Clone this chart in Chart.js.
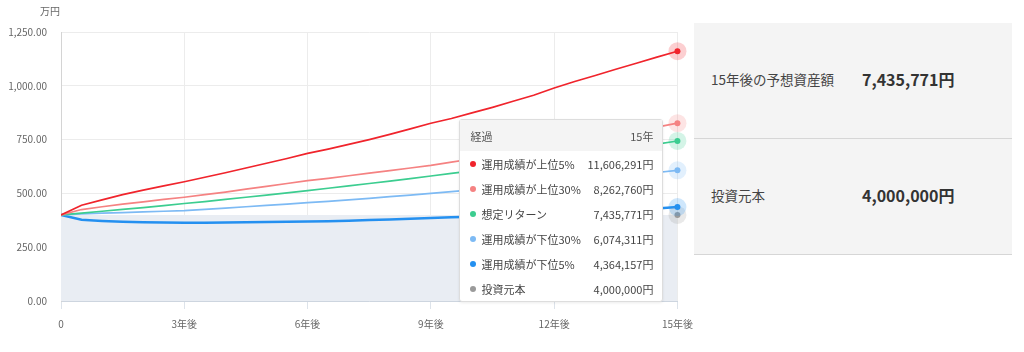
<!DOCTYPE html>
<html lang="ja">
<head>
<meta charset="utf-8">
<script src="https://cdn.jsdelivr.net/npm/chart.js@4/dist/chart.umd.min.js"></script>
<style>
  html, body { margin: 0; padding: 0; background: #fff; }
  body { width: 1024px; height: 352px; position: relative; overflow: hidden;
         font-family: "Noto Sans CJK JP", "Noto Sans", sans-serif; }
  #wrap { position: absolute; left: 0; top: 0; width: 702px; height: 352px; }
  #unit { position: absolute; left: 40px; top: 3px; font-size: 10px; color: #666; }
  #tip { position: absolute; width: 204px; background: #fff; border: 1px solid #ddd;
         border-radius: 3px; box-shadow: 0 1px 3px rgba(0,0,0,0.08); font-size: 11px; color: #444;
         box-sizing: border-box; display: none; }
  #tip .head { height: 31px; background: #f4f4f4; display: flex; justify-content: space-between;
               align-items: center; padding: 0 9px 0 10px; color: #555; }
  #tip .row { height: 25px; display: flex; align-items: center; padding: 0 9px 0 10px; }
  #tip .dot { width: 6px; height: 6px; border-radius: 50%; margin-right: 5px; }
  #tip .lab { flex: 1; }
  #panel { position: absolute; left: 694px; top: 23px; width: 318px; height: 231px; background: #f4f4f4;
           border-bottom: 1px solid #d6d6d6; }
  #panel .item { height: 115px; display: flex; align-items: center; box-sizing: border-box; padding-bottom: 3px; }
  #panel .item + .item { border-top: 1px solid #d6d6d6; }
  #panel .k { width: 168px; padding-left: 17px; box-sizing: border-box; font-size: 13.5px; color: #444; }
  #panel .v { font-size: 16px; font-weight: bold; color: #333; }
</style>
</head>
<body>
<div id="wrap">
  <canvas id="chart"></canvas>
  <div id="unit">万円</div>
  <div id="tip"></div>
</div>
<div id="panel">
  <div class="item"><div class="k">15年後の予想資産額</div><div class="v">7,435,771円</div></div>
  <div class="item"><div class="k">投資元本</div><div class="v">4,000,000円</div></div>
</div>
<script>
// 経過年数（半年ごと）
const years = [0, 0.5, 1, 1.5, 2, 2.5, 3, 3.5, 4, 4.5, 5, 5.5, 6, 6.5, 7, 7.5, 8, 8.5, 9, 9.5,
  10, 10.5, 11, 11.5, 12, 12.5, 13, 13.5, 14, 14.5, 15];

// 各シナリオの資産額（万円）
const top5 = [400, 445, 470, 494, 515, 535, 554, 575, 596, 618, 640, 662, 686, 706, 728, 750,
  774, 800, 826, 848, 874, 900, 928, 956, 990, 1020, 1048, 1077, 1105, 1133, 1160.6291];
const top30 = [400, 425, 438, 450, 461, 472, 482, 494, 506, 520, 533, 546, 559, 570, 582, 594,
  606, 618, 630, 645, 660, 676, 692, 708, 724, 740, 757, 774, 791, 808, 826.2760];
const expected = [400, 408, 417, 426, 434, 443, 453, 462, 472, 482, 492, 502, 513, 524, 535, 546,
  557, 569, 581, 593, 605, 618, 631, 644, 657, 671, 685, 699, 714, 729, 743.5771];
const bottom30 = [400, 405, 408, 411, 414, 417, 420, 426, 432, 438, 444, 450, 457, 463, 470, 477,
  485, 492, 500, 508, 516, 524, 533, 541, 550, 559, 568, 578, 588, 597, 607.4311];
const bottom5 = [400, 378, 372, 368, 366, 365, 364, 364, 365, 366, 367, 368, 369, 371, 373, 376,
  379, 382, 386, 389, 392, 395, 398, 401, 404, 409, 414, 419, 424, 430, 436.4157];
const principal = [400, 400, 400, 400, 400, 400, 400, 400, 400, 400, 400, 400, 400, 400, 400, 400,
  400, 400, 400, 400, 400, 400, 400, 400, 400, 400, 400, 400, 400, 400, 400];

const yTicks = [0, 250, 500, 750, 1000, 1250];
const xTicks = [0, 3, 6, 9, 12, 15];

const seriesNames = ['運用成績が上位5%', '運用成績が上位30%', '想定リターン', '運用成績が下位30%', '運用成績が下位5%', '投資元本'];
const seriesColors = ['#f0242c', '#f58282', '#3ccd90', '#7dbaf4', '#2490f0', '#9a9a9a'];
const seriesData = [top5, top30, expected, bottom30, bottom5, principal];

const toPoints = arr => arr.map((v, i) => ({ x: years[i], y: v }));

const datasets = seriesData.map((arr, i) => ({
  label: seriesNames[i],
  data: toPoints(arr),
  borderColor: i === 5 ? 'rgba(0,0,0,0)' : seriesColors[i],
  backgroundColor: i === 5 ? '#e9edf3' : seriesColors[i],
  borderWidth: i === 4 ? 2.5 : (i === 5 ? 0 : 1.7),
  fill: i === 5 ? 'origin' : false,
  pointRadius: 0,
  pointHoverRadius: 0,
  tension: 0
}));

function hexAlpha(hex, a) {
  const n = parseInt(hex.slice(1), 16);
  return 'rgba(' + (n >> 16) + ',' + ((n >> 8) & 255) + ',' + (n & 255) + ',' + a + ')';
}

// アクティブ点のハロー
const haloPlugin = {
  id: 'halo',
  afterDatasetsDraw(chart) {
    const ctx = chart.ctx;
    chart.getActiveElements().slice().reverse().forEach(a => {
      const c = seriesColors[a.datasetIndex];
      const el = a.element;
      ctx.save();
      ctx.beginPath();
      ctx.arc(el.x, el.y, 9, 0, Math.PI * 2);
      ctx.fillStyle = hexAlpha(c, 0.22);
      ctx.fill();
      ctx.beginPath();
      ctx.arc(el.x, el.y, 3, 0, Math.PI * 2);
      ctx.fillStyle = c;
      ctx.fill();
      ctx.restore();
    });
  }
};

function externalTip(context) {
  const chart = context.chart;
  const tt = context.tooltip;
  const el = document.getElementById('tip');
  if (tt.opacity === 0 || !tt.dataPoints || !tt.dataPoints.length) { el.style.display = 'none'; return; }
  const yr = tt.dataPoints[0].parsed.x;
  let html = '<div class="head"><span>経過</span><span>' + yr + '年</span></div>';
  tt.dataPoints.forEach(dp => {
    const yen = Math.round(dp.parsed.y * 10000).toLocaleString('ja-JP') + '円';
    html += '<div class="row"><span class="dot" style="background:' + seriesColors[dp.datasetIndex] +
      '"></span><span class="lab">' + dp.dataset.label + '</span><span>' + yen + '</span></div>';
  });
  el.innerHTML = html;
  el.style.display = 'block';
  el.style.left = (tt.caretX - 14 - el.offsetWidth) + 'px';
  el.style.top = (chart.chartArea.bottom + 1 - el.offsetHeight) + 'px';
}

const chart = new Chart(document.getElementById('chart'), {
  type: 'line',
  data: { datasets: datasets },
  plugins: [haloPlugin],
  options: {
    responsive: true,
    maintainAspectRatio: false,
    animation: false,
    events: [],
    layout: { padding: { top: 32, right: 6, left: 0, bottom: 0 } },
    interaction: { mode: 'index', intersect: false },
    plugins: {
      legend: { display: false },
      tooltip: { enabled: false, external: externalTip, mode: 'index', intersect: false }
    },
    scales: {
      x: {
        type: 'linear',
        min: 0,
        max: 15,
        afterBuildTicks: s => { s.ticks = xTicks.map(v => ({ value: v })); },
        afterFit: s => { s.height = 51; },
        grid: { color: '#ececec', tickColor: '#dde3ea', tickLength: 8, drawOnChartArea: true },
        border: { color: '#cdd5df' },
        ticks: {
          padding: 9,
          color: '#666',
          font: { size: 10, family: '"Noto Sans CJK JP", sans-serif' },
          callback: v => v === 0 ? '0' : v + '年後'
        }
      },
      y: {
        min: 0,
        max: 1250,
        afterBuildTicks: s => { s.ticks = yTicks.map(v => ({ value: v })); },
        afterFit: s => { s.width = 61; },
        grid: { color: '#ececec', drawTicks: false },
        border: { color: '#d4d4d4' },
        ticks: {
          padding: 14,
          color: '#666',
          font: { size: 10, family: '"Noto Sans CJK JP", sans-serif' },
          callback: v => v.toLocaleString('en-US', { minimumFractionDigits: 2, maximumFractionDigits: 2 })
        }
      }
    }
  }
});

const last = years.length - 1;
const active = datasets.map((d, i) => ({ datasetIndex: i, index: last }));
const p = chart.getDatasetMeta(0).data[last];
chart.setActiveElements(active);
chart.tooltip.setActiveElements(active, { x: p.x, y: p.y });
chart.update();
</script>
</body>
</html>
